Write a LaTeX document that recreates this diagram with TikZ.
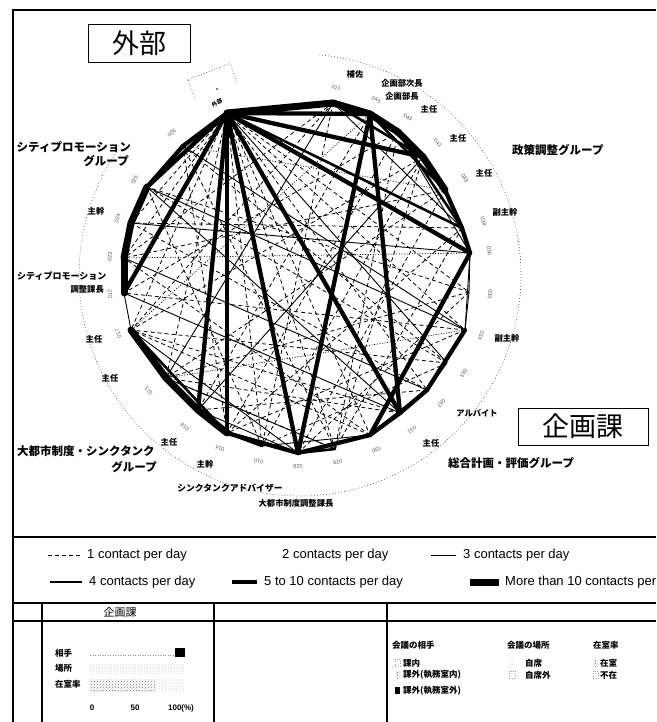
\documentclass[tikz,border=0pt]{standalone}
\usepackage{fontspec}
\setmainfont{Liberation Sans}
\newfontfamily\jp{Noto Sans CJK JP}
\usetikzlibrary{calc,patterns}
\begin{document}
\begin{tikzpicture}[x=1pt,y=-1pt,
  e1/.style={line width=0.8pt,dash pattern=on 4pt off 3pt},
  e2/.style={line width=0.7pt,dash pattern=on 1pt off 1.6pt},
  e3/.style={line width=0.9pt},
  e4/.style={line width=2.6pt,line cap=round},
  e5/.style={line width=4.3pt,line cap=round},
  e6/.style={line width=7pt,line cap=round,line join=round},
  grp/.style={font=\jp\bfseries\fontsize{11.5}{12}\selectfont,inner sep=0pt},
  role/.style={font=\jp\bfseries\fontsize{8.3}{9}\selectfont,inner sep=0pt},
  idn/.style={font=\fontsize{5.5}{6}\selectfont,text=black!65,inner sep=0pt},
  leg/.style={font=\fontsize{13}{14}\selectfont,anchor=west,inner sep=0pt},
  frame/.style={line width=1.1pt},
  bigbox/.style={draw,line width=0.9pt,inner sep=0pt,font=\jp\fontsize{27}{27}\selectfont},
  sm/.style={font=\jp\bfseries\fontsize{8.5}{9}\selectfont,inner sep=0pt,anchor=west}
]
\useasboundingbox (0,0) rectangle (656,722);
% frame
\draw[frame] (656,10) -- (13,10) -- (13,722);
\draw[frame] (13,537) -- (656,537);
% centre and nodes
\coordinate (C) at (300,275);
\coordinate (n0) at (227,113);
\coordinate (n1) at (333,103);
\coordinate (n2) at (370,114);
\coordinate (n3) at (398,132);
\coordinate (n4) at (423,157);
\coordinate (n5) at (445,190);
\coordinate (n6) at (462,228);
\coordinate (n7) at (470,253);
\coordinate (n8) at (469,292);
\coordinate (n9) at (465,330);
\coordinate (n10) at (447,363);
\coordinate (n11) at (427,390);
\coordinate (n12) at (400,413);
\coordinate (n13) at (370,435);
\coordinate (n14) at (335,449);
\coordinate (n15) at (298,453);
\coordinate (n16) at (262,446);
\coordinate (n17) at (227,433);
\coordinate (n18) at (198,410);
\coordinate (n19) at (166,378);
\coordinate (n20) at (131,330);
\coordinate (n21) at (124,293);
\coordinate (n22) at (124,258);
\coordinate (n23) at (131,223);
\coordinate (n24) at (147,187);
\coordinate (n25) at (183,146);
% outer dotted ring
\draw[black!70,line width=0.6pt,dash pattern=on 0.8pt off 2.2pt] (C) ++(-85:221) arc[start angle=-85,end angle=215,radius=221];
% dotted marker box near hub
\coordinate (q1) at (188,80); \coordinate (q2) at (230,63);
\coordinate (q3) at (237,82); \coordinate (q4) at (195,99);
\draw[black!70,line width=0.6pt,dash pattern=on 0.8pt off 2pt] (q1) -- (q2) -- (q3) (q1) -- (q4);
\fill (217,89) circle[radius=0.8];
\node[idn,font=\jp\bfseries\fontsize{5.5}{6}\selectfont,text=black,rotate=25] (hubl) at (217,103) {外部};
% connectors
\foreach \a/\b in {0/13,0/14,0/16,0/19,0/20,0/22,0/23,0/11,0/9,0/8,1/16,1/20,1/22,3/17,3/21,4/16,4/20,5/15,5/19,5/22,6/17,6/23,6/14,8/19,8/24,9/21,10/16,10/24,11/18,11/23,12/20,13/22,14/25,14/19,16/24,17/25,3/14,8/15,10/20,9/17,12/19,13/20,2/18,4/14,25/10}
  \draw[e1] (n\a) -- (n\b);
\foreach \a/\b in {2/20,5/25,9/19,7/22}
  \draw[e2] (n\a) -- (n\b);
\foreach \a/\b in {7/8,8/9,7/9,10/11,1/6,3/7,24/12,21/12,25/9,20/15,23/7,0/10,22/11,1/19,4/18,24/9,20/21,16/13,18/15,19/14}
  \draw[e3] (n\a) -- (n\b);
\foreach \a/\b in {0/6,1/4,2/5,3/6,11/13,14/15,16/17,20/17}
  \draw[e4] (n\a) -- (n\b);
\foreach \a/\b in {0/2,0/4,5/6,6/7,24/25,25/0,0/7,0/12,0/15,0/17,0/18,0/21,0/24,7/13,2/12,2/15,9/11,12/13,13/15,15/17,11/12}
  \draw[e5] (n\a) -- (n\b);
\foreach \a/\b in {0/1,1/2,2/3,3/4,4/5,17/18,18/19,19/20,21/22,22/23,23/24}
  \draw[e6] (n\a) -- (n\b);
% id numbers
\foreach \i/\ang/\t in {1/79.1/021,2/66.5/045,3/55.6/043,4/43.8/041,5/30.4/039,6/16.2/038,7/7.4/036,8/-5.7/035,9/-18.4/034,10/-30.9/033,11/-42.2/032,12/-54.1/031,13/-66.4/030,14/-78.6/029,15/-90.6/028,16/-102.5/010,17/-114.8/014,18/-127.1/016,19/-142.5/015,20/-162/017,21/-174.2/012,22/174.5/023,23/162.9/024,24/150.1/025,25/132.2/026}
  \node[idn,rotate=\ang-90] (id\i) at ([shift={(-\ang:191)}]C) {\t};
% big boxes
\node[bigbox,minimum width=102pt,minimum height=38pt] (gaibu) at (139,43) {外部};
\node[bigbox,minimum width=130pt,minimum height=37pt] (kikaku) at (583,426.5) {企画課};
% group labels
\node[grp,anchor=east] (g1a) at (131,147) {シティプロモーション};
\node[grp,anchor=east] (g1b) at (129,161) {グループ};
\node[grp,anchor=west] (g2) at (512,150) {政策調整グループ};
\node[grp,anchor=west] (g3) at (448,463) {総合計画・評価グループ};
\node[grp,anchor=west] (g4a) at (17,451) {大都市制度・シンクタンク};
\node[grp,anchor=east] (g4b) at (157,467) {グループ};
% role labels
\node[role] (r1) at (96,211) {主幹};
\node[role] (r2) at (355,74) {補佐};
\node[role] (r3) at (402,83) {企画部次長};
\node[role] (r4) at (402,96) {企画部長};
\node[role] (r5) at (429,109) {主任};
\node[role] (r6) at (458,138) {主任};
\node[role] (r7) at (484,173) {主任};
\node[role] (r8) at (505,212) {副主幹};
\node[role] (r9) at (507,338) {副主幹};
\node[role] (r10) at (477,413) {アルバイト};
\node[role] (r11) at (431,443) {主任};
\node[role,anchor=west,font=\jp\bfseries\fontsize{9}{9}\selectfont] (r12) at (17,276) {シティプロモーション};
\node[role,anchor=east] (r13) at (104,289) {調整課長};
\node[role] (r14) at (94,339) {主任};
\node[role] (r15) at (110,378) {主任};
\node[role] (r16) at (169,442) {主任};
\node[role] (r17) at (205,464) {主幹};
\node[role,font=\jp\bfseries\fontsize{8.8}{9}\selectfont] (r18) at (230,488) {シンクタンクアドバイザー};
\node[role] (r19) at (296,503) {大都市制度調整課長};
% legend
\coordinate (l1a) at (48,555); \coordinate (l1b) at (81,555);
\draw[e1] (l1a) -- (l1b);
\node[leg] (t1) at (87,555) {1 contact per day};
\node[leg] (t2) at (282,555) {2 contacts per day};
\coordinate (l3a) at (431,555); \coordinate (l3b) at (456,555);
\draw[e3] (l3a) -- (l3b);
\node[leg] (t3) at (463,555) {3 contacts per day};
\coordinate (l4a) at (50,582); \coordinate (l4b) at (82,582);
\draw[line width=2.6pt] (l4a) -- (l4b);
\node[leg] (t4) at (89,582) {4 contacts per day};
\coordinate (l5a) at (232,582); \coordinate (l5b) at (257,582);
\draw[line width=4.3pt] (l5a) -- (l5b);
\node[leg] (t5) at (264,582) {5 to 10 contacts per day};
\coordinate (l6a) at (470,582); \coordinate (l6b) at (499,582);
\draw[line width=7pt] (l6a) -- (l6b);
\node[leg] (t6) at (505,582) {More than 10 contacts per};
% table
\draw[frame] (13,603) -- (656,603);
\draw[frame] (13,621) -- (656,621);
\draw[frame] (42,603) -- (42,722);
\draw[frame] (214,603) -- (214,722);
\draw[frame] (387,603) -- (387,722);
\node[font=\jp\fontsize{11}{11}\selectfont,inner sep=0pt] (th) at (120,612) {企画課};
% bar chart cell
\node[sm] (b1) at (55,653) {相手};
\node[sm] (b2) at (55,668) {場所};
\node[sm] (b3) at (55,684) {在室率};
\draw[black!45,line width=0.6pt,dash pattern=on 1pt off 1.5pt] (90,655) -- (174,655);
\fill (175,648) rectangle (185,657);
\fill[pattern=dots,pattern color=black!45] (90,663) rectangle (184,673);
\fill[pattern=crosshatch dots,pattern color=black!55] (90,679) rectangle (155,691);
\fill[pattern=dots,pattern color=black!40] (155,679) rectangle (185,691);
\node[font=\bfseries\fontsize{8}{8}\selectfont,inner sep=0pt] (ax0) at (92,708) {0};
\node[font=\bfseries\fontsize{8}{8}\selectfont,inner sep=0pt] (ax1) at (135,708) {50};
\node[font=\bfseries\fontsize{8}{8}\selectfont,inner sep=0pt] (ax2) at (181,708) {100(\%)};
% key cell
\node[sm] (k1) at (392,645) {会議の相手};
\node[sm] (k2) at (507,645) {会議の場所};
\node[sm] (k3) at (593,645) {在室率};
\draw[black!40,line width=0.4pt,dotted] (395,659) rectangle (400,666);
\node[sm] (k4) at (403,663) {課内};
\fill[pattern=crosshatch dots,pattern color=black!60] (395,671) rectangle (400,678);
\node[sm] (k5) at (403,675) {課外(執務室内)};
\fill (395,687) rectangle (400,694);
\node[sm] (k6) at (403,691) {課外(執務室外)};
\fill[pattern=dots,pattern color=black!45] (509,659) rectangle (515,666);
\node[sm] (k7) at (525,663) {自席};
\draw[black!40,line width=0.4pt,dotted] (509,671) rectangle (515,678);
\node[sm] (k8) at (525,675) {自席外};
\fill[pattern=crosshatch dots,pattern color=black!60] (593,659) rectangle (598,666);
\node[sm] (k9) at (600,663) {在室};
\draw[black!40,line width=0.4pt,dotted] (593,671) rectangle (598,678);
\node[sm] (k10) at (600,675) {不在};
\end{tikzpicture}
\end{document}
